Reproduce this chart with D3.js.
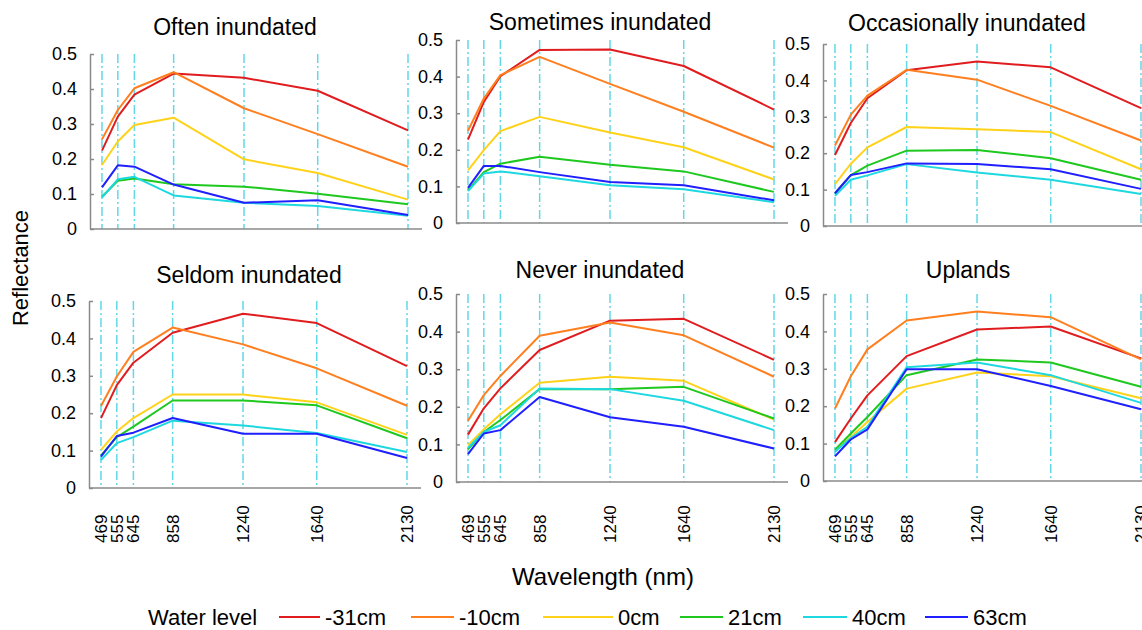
<!DOCTYPE html>
<html>
<head>
<meta charset="utf-8">
<script src="https://cdn.jsdelivr.net/npm/d3@7"></script>
<style>
  body { margin: 0; background: #fff; }
  svg { font-family: "Liberation Sans", Arial, sans-serif; }
</style>
</head>
<body>
<div id="chart"></div>
<script>
var wavelengths = [469, 555, 645, 858, 1240, 1640, 2130],
    levels = ["-31cm", "-10cm", "0cm", "21cm", "40cm", "63cm"],
    colors = ["#e01c1f", "#ff7f1f", "#ffd21a", "#1ec81e", "#1ed8e0", "#1f1fff"],
    titles = ["Often inundated", "Sometimes inundated", "Occasionally inundated",
              "Seldom inundated", "Never inundated", "Uplands"],
    yTicks = [0, 0.1, 0.2, 0.3, 0.4, 0.5];

// reflectance per panel: one row per water level, one value per wavelength
var often = [
  [0.224, 0.321, 0.384, 0.444, 0.432, 0.395, 0.282],
  [0.256, 0.340, 0.402, 0.448, 0.345, 0.271, 0.178],
  [0.183, 0.250, 0.297, 0.318, 0.199, 0.160, 0.084],
  [0.092, 0.138, 0.144, 0.128, 0.121, 0.101, 0.071],
  [0.090, 0.142, 0.149, 0.096, 0.075, 0.066, 0.038],
  [0.119, 0.182, 0.178, 0.127, 0.075, 0.082, 0.040]
];
var sometimes = [
  [0.228, 0.331, 0.401, 0.473, 0.474, 0.429, 0.310],
  [0.252, 0.340, 0.404, 0.454, 0.380, 0.304, 0.206],
  [0.144, 0.199, 0.251, 0.290, 0.247, 0.207, 0.119],
  [0.089, 0.139, 0.162, 0.181, 0.159, 0.141, 0.085],
  [0.087, 0.135, 0.141, 0.128, 0.103, 0.092, 0.057],
  [0.096, 0.156, 0.156, 0.139, 0.112, 0.103, 0.062]
];
var occasionally = [
  [0.195, 0.283, 0.351, 0.428, 0.452, 0.436, 0.324],
  [0.221, 0.306, 0.358, 0.429, 0.402, 0.330, 0.235],
  [0.115, 0.171, 0.216, 0.272, 0.266, 0.258, 0.156],
  [0.090, 0.140, 0.166, 0.207, 0.209, 0.186, 0.127],
  [0.083, 0.127, 0.139, 0.170, 0.147, 0.127, 0.088],
  [0.090, 0.140, 0.148, 0.172, 0.170, 0.156, 0.102]
];
var seldom = [
  [0.187, 0.275, 0.335, 0.415, 0.466, 0.441, 0.326],
  [0.219, 0.298, 0.364, 0.429, 0.384, 0.320, 0.220],
  [0.102, 0.151, 0.187, 0.250, 0.250, 0.229, 0.142],
  [0.087, 0.136, 0.164, 0.234, 0.234, 0.221, 0.133],
  [0.075, 0.120, 0.136, 0.180, 0.167, 0.147, 0.096],
  [0.084, 0.139, 0.148, 0.187, 0.145, 0.145, 0.080]
];
var never = [
  [0.126, 0.196, 0.249, 0.351, 0.429, 0.434, 0.325],
  [0.163, 0.231, 0.282, 0.389, 0.424, 0.390, 0.280],
  [0.098, 0.140, 0.180, 0.264, 0.280, 0.269, 0.166],
  [0.087, 0.133, 0.165, 0.247, 0.247, 0.253, 0.169],
  [0.091, 0.133, 0.151, 0.249, 0.247, 0.216, 0.138],
  [0.074, 0.129, 0.138, 0.226, 0.172, 0.147, 0.089]
];
var uplands = [
  [0.104, 0.167, 0.229, 0.334, 0.405, 0.413, 0.328],
  [0.194, 0.280, 0.352, 0.429, 0.453, 0.438, 0.325],
  [0.082, 0.118, 0.158, 0.247, 0.290, 0.280, 0.221],
  [0.084, 0.127, 0.171, 0.283, 0.325, 0.317, 0.252],
  [0.078, 0.115, 0.145, 0.304, 0.317, 0.283, 0.209],
  [0.066, 0.111, 0.138, 0.299, 0.299, 0.254, 0.192]
];
var panelData = [often, sometimes, occasionally, seldom, never, uplands];

// layout of each panel: axis x, y of 0.5, y of 0, title centre and baseline
var panels = [
  { x: 90,  top: 54,  bottom: 229, tx: 235, ty: 35 },
  { x: 456, top: 40,  bottom: 223, tx: 600, ty: 30 },
  { x: 823, top: 44,  bottom: 226, tx: 967, ty: 31 },
  { x: 89,  top: 301, bottom: 488, tx: 249, ty: 283 },
  { x: 456, top: 294, bottom: 482, tx: 600, ty: 278 },
  { x: 823, top: 294, bottom: 481, tx: 968, ty: 278 }
];

var width = 1142, height = 630,
    plotW = 318, axisW = 332,
    axisColor = "#8a8a8a",
    guideColor = "#62d8e6";

var svg = d3.select("#chart").append("svg")
    .attr("width", width)
    .attr("height", height);

svg.append("rect").attr("width", width).attr("height", height).attr("fill", "#fff");

var line = d3.line();

panels.forEach(function(p, pi) {
    var x = d3.scaleLinear().domain([404, 2130]).range([p.x, p.x + plotW]);
    var y = d3.scaleLinear().domain([0, 0.5]).range([p.bottom, p.top]);
    var g = svg.append("g");

    // dash-dot guides at each band
    g.selectAll(".guide")
        .data(wavelengths)
        .enter().append("line")
        .attr("x1", function(d) { return x(d); })
        .attr("x2", function(d) { return x(d); })
        .attr("y1", y(0.5))
        .attr("y2", y(0))
        .attr("stroke", guideColor)
        .attr("stroke-width", 1.5)
        .attr("stroke-dasharray", "9,3,2,3");

    // y axis
    var yAxis = d3.axisLeft(y)
        .tickValues(yTicks)
        .tickSize(-4)
        .tickSizeOuter(0)
        .tickPadding(13)
        .tickFormat(function(d) { return d === 0 ? "0" : d3.format(".1f")(d); });
    var ya = g.append("g").attr("transform", "translate(" + p.x + ",0)").call(yAxis);
    ya.select(".domain").attr("stroke", axisColor).attr("stroke-width", 1.5);
    ya.selectAll(".tick line").attr("stroke", axisColor).attr("stroke-width", 1.5);
    ya.selectAll(".tick text")
        .attr("font-size", 18)
        .attr("fill", "#000")
        .attr("font-family", "Liberation Sans, Arial, sans-serif");

    // x axis line
    g.append("line")
        .attr("x1", p.x).attr("x2", p.x + axisW)
        .attr("y1", y(0)).attr("y2", y(0))
        .attr("stroke", axisColor)
        .attr("stroke-width", 1.5);

    // series
    g.selectAll(".series")
        .data(panelData[pi])
        .enter().append("path")
        .attr("fill", "none")
        .attr("stroke", function(d, i) { return colors[i]; })
        .attr("stroke-width", 2)
        .attr("stroke-linejoin", "round")
        .attr("d", function(d) {
            return line(d.map(function(v, j) { return [x(wavelengths[j]), y(v)]; }));
        });

    // title
    g.append("text")
        .attr("x", p.tx)
        .attr("y", p.ty)
        .attr("text-anchor", "middle")
        .attr("font-size", 23)
        .text(titles[pi]);

    // wavelength labels only under the bottom row
    if (pi >= 3) {
        g.selectAll(".xlab")
            .data(wavelengths)
            .enter().append("text")
            .attr("transform", function(d) { return "translate(" + x(d) + ",543) rotate(-90)"; })
            .attr("dy", "0.35em")
            .attr("text-anchor", "start")
            .attr("font-size", 17)
            .text(function(d) { return d; });
    }
});

// axis titles
svg.append("text")
    .attr("transform", "translate(20,268) rotate(-90)")
    .attr("dy", "0.35em")
    .attr("text-anchor", "middle")
    .attr("font-size", 22)
    .text("Reflectance");

svg.append("text")
    .attr("x", 603)
    .attr("y", 585)
    .attr("text-anchor", "middle")
    .attr("font-size", 24)
    .text("Wavelength (nm)");

// legend
var legendY = 617,
    legendStart = [279, 411, 543, 680, 803, 925],
    legendEnd = [320, 454, 613, 723, 847, 968];

svg.append("text")
    .attr("x", 148)
    .attr("y", legendY)
    .attr("dy", "0.35em")
    .attr("font-size", 22)
    .text("Water level");

var legend = svg.selectAll(".legend")
    .data(levels)
    .enter().append("g")
    .attr("class", "legend");

legend.append("line")
    .attr("x1", function(d, i) { return legendStart[i]; })
    .attr("x2", function(d, i) { return legendEnd[i]; })
    .attr("y1", legendY)
    .attr("y2", legendY)
    .attr("stroke", function(d, i) { return colors[i]; })
    .attr("stroke-width", 2);

legend.append("text")
    .attr("x", function(d, i) { return legendEnd[i] + 5; })
    .attr("y", legendY)
    .attr("dy", "0.35em")
    .attr("font-size", 22)
    .text(function(d) { return d; });
</script>
</body>
</html>
